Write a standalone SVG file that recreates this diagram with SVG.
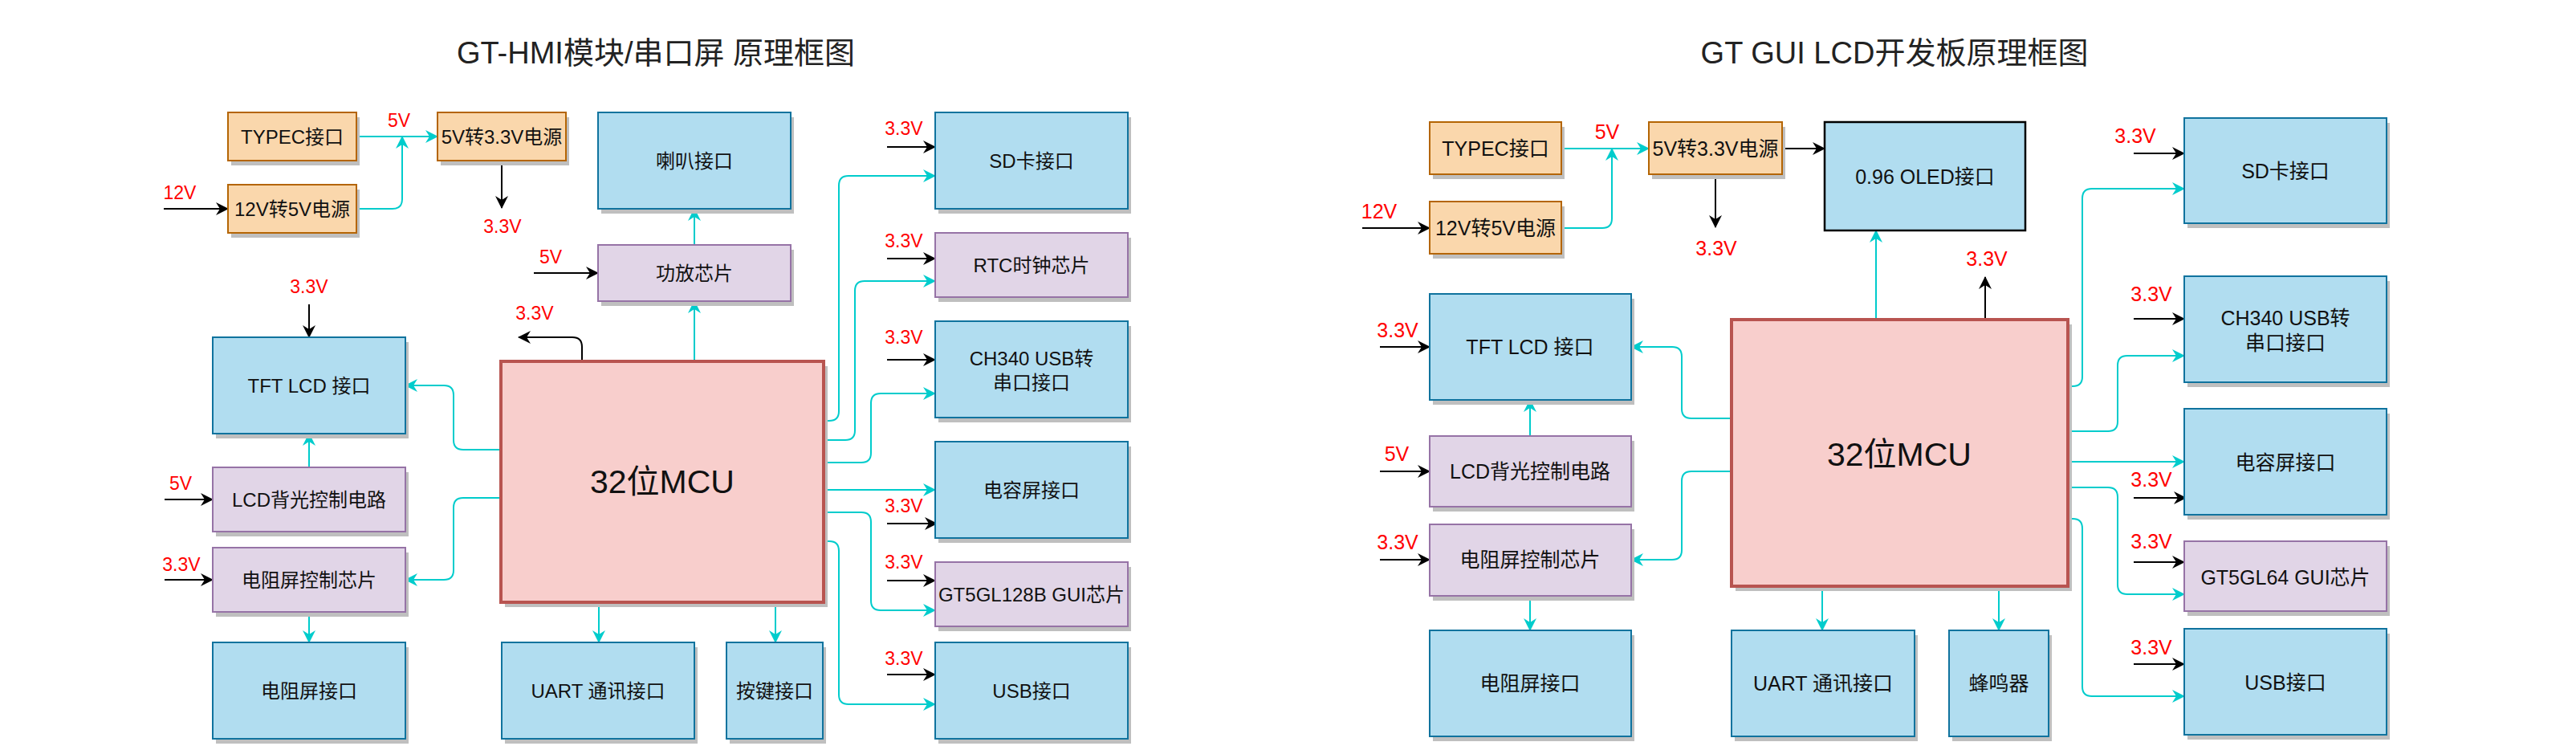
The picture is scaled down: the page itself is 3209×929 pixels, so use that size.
<svg xmlns="http://www.w3.org/2000/svg" width="3209" height="929" viewBox="0 0 3209 929">
<defs>
<marker id="ac" markerUnits="userSpaceOnUse" markerWidth="16" markerHeight="16" viewBox="0 0 16 16" refX="15" refY="8" orient="auto"><path d="M0,0 L16,8 L0,16 L5,8 Z" fill="#00CCCC"/></marker>
<marker id="ab" markerUnits="userSpaceOnUse" markerWidth="16" markerHeight="16" viewBox="0 0 16 16" refX="15" refY="8" orient="auto"><path d="M0,0 L16,8 L0,16 L5,8 Z" fill="#000"/></marker>
<style>
text{font-family:"Liberation Sans","Noto Sans CJK SC",sans-serif;fill:#111;}
.t{font-size:24px;text-anchor:middle;dominant-baseline:central;}
.t2{font-size:25px;text-anchor:middle;dominant-baseline:central;}
.big{font-size:41px;text-anchor:middle;dominant-baseline:central;}
.title{font-size:38px;text-anchor:middle;fill:#222;}
.v{font-size:23px;text-anchor:middle;fill:#FF0000;}
.v2{font-size:25px;text-anchor:middle;fill:#FF0000;}
.sh{fill:#bfbfbf;}
.bl{fill:#b1ddf0;stroke:#10739e;stroke-width:2;}
.pu{fill:#e1d5e7;stroke:#9673a6;stroke-width:2;}
.or{fill:#fad7ac;stroke:#b46504;stroke-width:2;}
.rd{fill:#f8cecc;stroke:#b85450;stroke-width:4;}
.ol{fill:#b1ddf0;stroke:#000;stroke-width:2.5;}
.c{fill:none;stroke:#00CCCC;stroke-width:2;marker-end:url(#ac);}
.k{fill:none;stroke:#000;stroke-width:2;marker-end:url(#ab);}
</style>
</defs>
<rect width="3209" height="929" fill="#fff"/>

<text class="title" x="817" y="79">GT-HMI模块/串口屏 原理框图</text>
<text class="title" x="2360" y="79">GT GUI LCD开发板原理框图</text>

<g id="connectors">
<path class="k" d="M204,260 L284,260"/>
<path class="k" d="M625,200 L625,259"/>
<path class="k" d="M665,340 L745,340"/>
<path class="k" d="M725,450 L725,432 Q725,420 713,420 L646,420"/>
<path class="k" d="M385,379 L385,420"/>
<path class="k" d="M205,622 L265,622"/>
<path class="k" d="M205,722 L265,722"/>
<path class="k" d="M1105,183 L1165,183"/>
<path class="k" d="M1105,322 L1165,322"/>
<path class="k" d="M1105,448 L1165,448"/>
<path class="k" d="M1105,652 L1167,652"/>
<path class="k" d="M1105,723 L1165,723"/>
<path class="k" d="M1105,840 L1165,840"/>
<path class="c" d="M444,170 L545,170"/>
<path class="c" d="M444,260 L489,260 Q501,260 501,248 L501,170"/>
<path class="c" d="M865,305 L865,260"/>
<path class="c" d="M865,450 L865,375"/>
<path class="c" d="M624,560 L577,560 Q565,560 565,548 L565,492 Q565,480 553,480 L505,480"/>
<path class="c" d="M624,620 L577,620 Q565,620 565,632 L565,710 Q565,722 553,722 L505,722"/>
<path class="c" d="M385,582 L385,540"/>
<path class="c" d="M385,762 L385,800"/>
<path class="c" d="M746,750 L746,800"/>
<path class="c" d="M966,750 L966,800"/>
<path class="c" d="M1026,524 L1033,524 Q1045,524 1045,512 L1045,231 Q1045,219 1057,219 L1165,219"/>
<path class="c" d="M1026,548 L1053,548 Q1065,548 1065,536 L1065,362 Q1065,350 1077,350 L1165,350"/>
<path class="c" d="M1026,576 L1073,576 Q1085,576 1085,564 L1085,502 Q1085,490 1097,490 L1165,490"/>
<path class="c" d="M1026,610 L1165,610"/>
<path class="c" d="M1026,638 L1073,638 Q1085,638 1085,650 L1085,748 Q1085,760 1097,760 L1165,760"/>
<path class="c" d="M1026,674 L1033,674 Q1045,674 1045,686 L1045,865 Q1045,877 1057,877 L1165,877"/>
<path class="k" d="M1697,284 L1781,284"/>
<path class="k" d="M2220,185 L2273,185"/>
<path class="k" d="M2137,217 L2137,283"/>
<path class="k" d="M2473,398 L2473,345"/>
<path class="k" d="M1719,432 L1781,432"/>
<path class="k" d="M1719,587 L1781,587"/>
<path class="k" d="M1719,697 L1781,697"/>
<path class="k" d="M2658,191 L2721,191"/>
<path class="k" d="M2658,397 L2721,397"/>
<path class="k" d="M2658,620 L2723,620"/>
<path class="k" d="M2658,700 L2721,700"/>
<path class="k" d="M2658,827 L2721,827"/>
<path class="c" d="M1945,185 L2054,185"/>
<path class="c" d="M1945,284 L1996,284 Q2008,284 2008,272 L2008,185"/>
<path class="c" d="M2337,398 L2337,287"/>
<path class="c" d="M2157,521 L2107,521 Q2095,521 2095,509 L2095,444 Q2095,432 2083,432 L2032,432"/>
<path class="c" d="M2157,587 L2107,587 Q2095,587 2095,599 L2095,685 Q2095,697 2083,697 L2032,697"/>
<path class="c" d="M1906,543 L1906,498"/>
<path class="c" d="M1906,742 L1906,785"/>
<path class="c" d="M2270,730 L2270,785"/>
<path class="c" d="M2490,730 L2490,785"/>
<path class="c" d="M2576,481 L2582,481 Q2594,481 2594,469 L2594,247 Q2594,235 2606,235 L2721,235"/>
<path class="c" d="M2576,537 L2626,537 Q2638,537 2638,525 L2638,455 Q2638,443 2650,443 L2721,443"/>
<path class="c" d="M2576,575 L2721,575"/>
<path class="c" d="M2576,607 L2626,607 Q2638,607 2638,619 L2638,728 Q2638,740 2650,740 L2721,740"/>
<path class="c" d="M2576,646 L2582,646 Q2594,646 2594,658 L2594,855 Q2594,867 2606,867 L2721,867"/>
</g>

<g id="labels">
<text class="v" x="224" y="248">12V</text>
<text class="v" x="497" y="158">5V</text>
<text class="v" x="626" y="290">3.3V</text>
<text class="v" x="686" y="328">5V</text>
<text class="v" x="666" y="398">3.3V</text>
<text class="v" x="385" y="365">3.3V</text>
<text class="v" x="225" y="610">5V</text>
<text class="v" x="226" y="711">3.3V</text>
<text class="v" x="1126" y="168">3.3V</text>
<text class="v" x="1126" y="308">3.3V</text>
<text class="v" x="1126" y="428">3.3V</text>
<text class="v" x="1126" y="638">3.3V</text>
<text class="v" x="1126" y="708">3.3V</text>
<text class="v" x="1126" y="828">3.3V</text>
<text class="v2" x="1718" y="272">12V</text>
<text class="v2" x="2002" y="173">5V</text>
<text class="v2" x="2138" y="318">3.3V</text>
<text class="v2" x="2475" y="331">3.3V</text>
<text class="v2" x="1741" y="420">3.3V</text>
<text class="v2" x="1740" y="574">5V</text>
<text class="v2" x="1741" y="684">3.3V</text>
<text class="v2" x="2660" y="178">3.3V</text>
<text class="v2" x="2680" y="375">3.3V</text>
<text class="v2" x="2680" y="606">3.3V</text>
<text class="v2" x="2680" y="683">3.3V</text>
<text class="v2" x="2680" y="815">3.3V</text>
</g>

<g id="typec1"><rect class="sh" x="288" y="146" width="160" height="60"/><rect class="or" x="284" y="140" width="160" height="60"/><text class="t" x="364" y="170">TYPEC接口</text></g>
<g id="p12v1"><rect class="sh" x="288" y="236" width="160" height="60"/><rect class="or" x="284" y="230" width="160" height="60"/><text class="t" x="364" y="260">12V转5V电源</text></g>
<g id="p33v1"><rect class="sh" x="549" y="146" width="160" height="60"/><rect class="or" x="545" y="140" width="160" height="60"/><text class="t" x="625" y="170">5V转3.3V电源</text></g>
<g id="spk1"><rect class="sh" x="749" y="146" width="240" height="120"/><rect class="bl" x="745" y="140" width="240" height="120"/><text class="t" x="865" y="200">喇叭接口</text></g>
<g id="amp1"><rect class="sh" x="749" y="311" width="240" height="70"/><rect class="pu" x="745" y="305" width="240" height="70"/><text class="t" x="865" y="340">功放芯片</text></g>
<g id="mcu1"><rect class="sh" x="629" y="456" width="402" height="300"/><rect class="rd" x="624" y="450" width="402" height="300"/><text class="big" x="825" y="600">32位MCU</text></g>
<g id="tft1"><rect class="sh" x="269" y="426" width="240" height="120"/><rect class="bl" x="265" y="420" width="240" height="120"/><text class="t" x="385" y="480">TFT LCD 接口</text></g>
<g id="bl1"><rect class="sh" x="269" y="588" width="240" height="80"/><rect class="pu" x="265" y="582" width="240" height="80"/><text class="t" x="385" y="622">LCD背光控制电路</text></g>
<g id="rtc1"><rect class="sh" x="269" y="688" width="240" height="80"/><rect class="pu" x="265" y="682" width="240" height="80"/><text class="t" x="385" y="722">电阻屏控制芯片</text></g>
<g id="rt1"><rect class="sh" x="269" y="806" width="240" height="120"/><rect class="bl" x="265" y="800" width="240" height="120"/><text class="t" x="385" y="860">电阻屏接口</text></g>
<g id="uart1"><rect class="sh" x="629" y="806" width="240" height="120"/><rect class="bl" x="625" y="800" width="240" height="120"/><text class="t" x="745" y="860">UART 通讯接口</text></g>
<g id="key1"><rect class="sh" x="909" y="806" width="120" height="120"/><rect class="bl" x="905" y="800" width="120" height="120"/><text class="t" x="965" y="860">按键接口</text></g>
<g id="sd1"><rect class="sh" x="1169" y="146" width="240" height="120"/><rect class="bl" x="1165" y="140" width="240" height="120"/><text class="t" x="1285" y="200">SD卡接口</text></g>
<g id="rtcclk1"><rect class="sh" x="1169" y="296" width="240" height="80"/><rect class="pu" x="1165" y="290" width="240" height="80"/><text class="t" x="1285" y="330">RTC时钟芯片</text></g>
<g id="ch1"><rect class="sh" x="1169" y="406" width="240" height="120"/><rect class="bl" x="1165" y="400" width="240" height="120"/><text class="t" x="1285" y="446">CH340 USB转</text><text class="t" x="1285" y="476">串口接口</text></g>
<g id="cap1"><rect class="sh" x="1169" y="556" width="240" height="120"/><rect class="bl" x="1165" y="550" width="240" height="120"/><text class="t" x="1285" y="610">电容屏接口</text></g>
<g id="gt1"><rect class="sh" x="1169" y="706" width="240" height="80"/><rect class="pu" x="1165" y="700" width="240" height="80"/><text class="t" x="1285" y="740">GT5GL128B GUI芯片</text></g>
<g id="usb1"><rect class="sh" x="1169" y="806" width="240" height="120"/><rect class="bl" x="1165" y="800" width="240" height="120"/><text class="t" x="1285" y="860">USB接口</text></g>

<g id="typec2"><rect class="sh" x="1785" y="158" width="164" height="65"/><rect class="or" x="1781" y="152" width="164" height="65"/><text class="t2" x="1863" y="185">TYPEC接口</text></g>
<g id="p12v2"><rect class="sh" x="1785" y="257" width="164" height="65"/><rect class="or" x="1781" y="251" width="164" height="65"/><text class="t2" x="1863" y="284">12V转5V电源</text></g>
<g id="p33v2"><rect class="sh" x="2058" y="158" width="166" height="65"/><rect class="or" x="2054" y="152" width="166" height="65"/><text class="t2" x="2137" y="185">5V转3.3V电源</text></g>
<g id="oled2"><rect class="ol" x="2273" y="152" width="250" height="135"/><text class="t2" x="2398" y="220">0.96 OLED接口</text></g>
<g id="tft2"><rect class="sh" x="1785" y="372" width="251" height="132"/><rect class="bl" x="1781" y="366" width="251" height="132"/><text class="t2" x="1906" y="432">TFT LCD 接口</text></g>
<g id="bl2"><rect class="sh" x="1785" y="549" width="251" height="88"/><rect class="pu" x="1781" y="543" width="251" height="88"/><text class="t2" x="1906" y="587">LCD背光控制电路</text></g>
<g id="rtc2"><rect class="sh" x="1785" y="659" width="251" height="89"/><rect class="pu" x="1781" y="653" width="251" height="89"/><text class="t2" x="1906" y="697">电阻屏控制芯片</text></g>
<g id="rt2"><rect class="sh" x="1785" y="791" width="251" height="132"/><rect class="bl" x="1781" y="785" width="251" height="132"/><text class="t2" x="1906" y="851">电阻屏接口</text></g>
<g id="mcu2"><rect class="sh" x="2162" y="404" width="419" height="332"/><rect class="rd" x="2157" y="398" width="419" height="332"/><text class="big" x="2366" y="566">32位MCU</text></g>
<g id="uart2"><rect class="sh" x="2161" y="791" width="228" height="132"/><rect class="bl" x="2157" y="785" width="228" height="132"/><text class="t2" x="2271" y="851">UART 通讯接口</text></g>
<g id="buzz2"><rect class="sh" x="2432" y="791" width="124" height="132"/><rect class="bl" x="2428" y="785" width="124" height="132"/><text class="t2" x="2490" y="851">蜂鸣器</text></g>
<g id="sd2"><rect class="sh" x="2725" y="153" width="252" height="131"/><rect class="bl" x="2721" y="147" width="252" height="131"/><text class="t2" x="2847" y="213">SD卡接口</text></g>
<g id="ch2"><rect class="sh" x="2725" y="350" width="252" height="132"/><rect class="bl" x="2721" y="344" width="252" height="132"/><text class="t2" x="2847" y="396">CH340 USB转</text><text class="t2" x="2847" y="427">串口接口</text></g>
<g id="cap2"><rect class="sh" x="2725" y="515" width="252" height="132"/><rect class="bl" x="2721" y="509" width="252" height="132"/><text class="t2" x="2847" y="576">电容屏接口</text></g>
<g id="gt2"><rect class="sh" x="2725" y="680" width="252" height="87"/><rect class="pu" x="2721" y="674" width="252" height="87"/><text class="t2" x="2847" y="719">GT5GL64 GUI芯片</text></g>
<g id="usb2"><rect class="sh" x="2725" y="789" width="252" height="132"/><rect class="bl" x="2721" y="783" width="252" height="132"/><text class="t2" x="2847" y="850">USB接口</text></g>
</svg>
